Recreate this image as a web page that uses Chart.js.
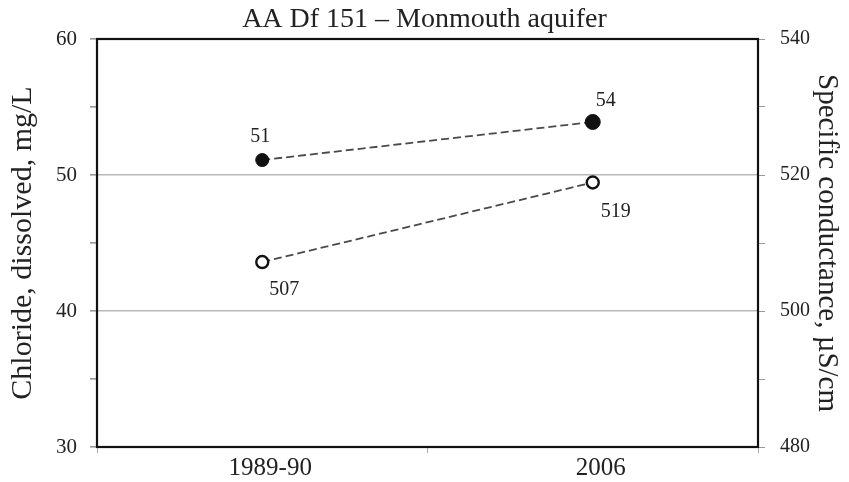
<!DOCTYPE html>
<html>
<head>
<meta charset="utf-8">
<script src="https://cdn.jsdelivr.net/npm/chart.js@4"></script>
<style>
  html, body { margin: 0; padding: 0; background: #fff; }
  #wrap { width: 849px; height: 482px; }
</style>
</head>
<body>
<div id="wrap"><canvas id="chart"></canvas></div>
<script>
// Data
const periods = ['1989-90', '2006'];
const chloride = [51.1, 53.9];
const chlorideLabels = ['51', '54'];
const conductance = [507.2, 518.9];
const conductanceLabels = ['507', '519'];
const chlorideTicks = [30, 40, 50, 60];
const conductanceTicks = [480, 500, 520, 540];
const gridValues = [40, 50];

const FONT = '"Liberation Serif", "Times New Roman", serif';
const INK = '#222';

// value labels next to each point
const pointLabels = {
    id: 'pointLabels',
    afterDatasetsDraw(chart) {
        const ctx = chart.ctx;
        ctx.save();
        ctx.font = '20px ' + FONT;
        ctx.fillStyle = INK;
        ctx.textAlign = 'center';
        ctx.textBaseline = 'middle';
        chart.data.datasets.forEach((ds, i) => {
            chart.getDatasetMeta(i).data.forEach((pt, j) => {
                const off = ds.labelOffsets[j];
                ctx.fillText(ds.valueLabels[j], pt.x + off[0], pt.y + off[1]);
            });
        });
        ctx.restore();
    }
};

// black box round the plot area
const frame = {
    id: 'frame',
    afterDraw(chart) {
        const a = chart.chartArea;
        const ctx = chart.ctx;
        ctx.save();
        ctx.strokeStyle = '#111';
        ctx.lineWidth = 2.2;
        ctx.strokeRect(a.left, a.top, a.right - a.left, a.bottom - a.top);
        ctx.restore();
    }
};

Chart.defaults.font.family = FONT;
Chart.defaults.color = INK;

new Chart(document.getElementById('chart'), {
    type: 'line',
    data: {
        labels: periods,
        datasets: [{
            label: 'Chloride',
            data: chloride,
            valueLabels: chlorideLabels,
            labelOffsets: [[-2, -23], [13, -21]],
            yAxisID: 'y',
            borderColor: '#4a4a4a',
            borderWidth: 1.8,
            borderDash: [8, 4],
            pointRadius: [6.5, 7.5],
            pointBackgroundColor: '#111',
            pointBorderColor: '#111',
            pointBorderWidth: 1
        }, {
            label: 'Specific conductance',
            data: conductance,
            valueLabels: conductanceLabels,
            labelOffsets: [[22, 28], [23, 29]],
            yAxisID: 'y1',
            borderColor: '#4a4a4a',
            borderWidth: 1.8,
            borderDash: [8, 4],
            pointRadius: 6,
            pointBackgroundColor: '#fff',
            pointBorderColor: '#111',
            pointBorderWidth: 2.4
        }]
    },
    options: {
        responsive: true,
        maintainAspectRatio: false,
        animation: false,
        layout: { padding: 0 },
        plugins: {
            legend: { display: false },
            tooltip: { enabled: false },
            title: {
                display: true,
                text: 'AA Df 151 \u2013 Monmouth aquifer',
                color: INK,
                font: { size: 28, weight: 'normal' },
                padding: { top: 3, bottom: 2.4 }
            }
        },
        scales: {
            x: {
                type: 'category',
                offset: true,
                grid: {
                    offset: true,
                    drawOnChartArea: false,
                    tickLength: 6,
                    tickColor: '#aaa'
                },
                border: { display: false },
                ticks: {
                    font: { size: 25 },
                    padding: 0,
                    labelOffset: 8,
                    maxRotation: 0
                },
                afterFit: s => { s.height = 35; }
            },
            y: {
                position: 'left',
                min: 30,
                max: 60,
                ticks: {
                    stepSize: 5,
                    autoSkip: false,
                    padding: 13,
                    font: { size: 21 },
                    callback: v => chlorideTicks.includes(v) ? v : ''
                },
                grid: {
                    color: c => gridValues.includes(c.tick && c.tick.value) ? '#b8b8b8' : 'rgba(0,0,0,0)',
                    lineWidth: 1.6,
                    tickLength: 7,
                    tickColor: '#999'
                },
                border: { display: false },
                title: {
                    display: true,
                    text: 'Chloride, dissolved, mg/L',
                    font: { size: 30 },
                    padding: { top: 5, bottom: 0 }
                },
                afterFit: s => { s.width = 97; }
            },
            y1: {
                position: 'right',
                min: 480,
                max: 540,
                ticks: {
                    stepSize: 10,
                    autoSkip: false,
                    padding: 15,
                    font: { size: 20 },
                    callback: v => conductanceTicks.includes(v) ? v : ''
                },
                grid: {
                    drawOnChartArea: false,
                    tickLength: 7,
                    tickColor: '#999'
                },
                border: { display: false },
                title: {
                    display: true,
                    text: 'Specific conductance, \u00b5S/cm',
                    font: { size: 29 },
                    padding: { top: 5, bottom: 0 }
                },
                afterFit: s => { s.width = 91; }
            }
        }
    },
    plugins: [pointLabels, frame]
});
</script>
</body>
</html>
